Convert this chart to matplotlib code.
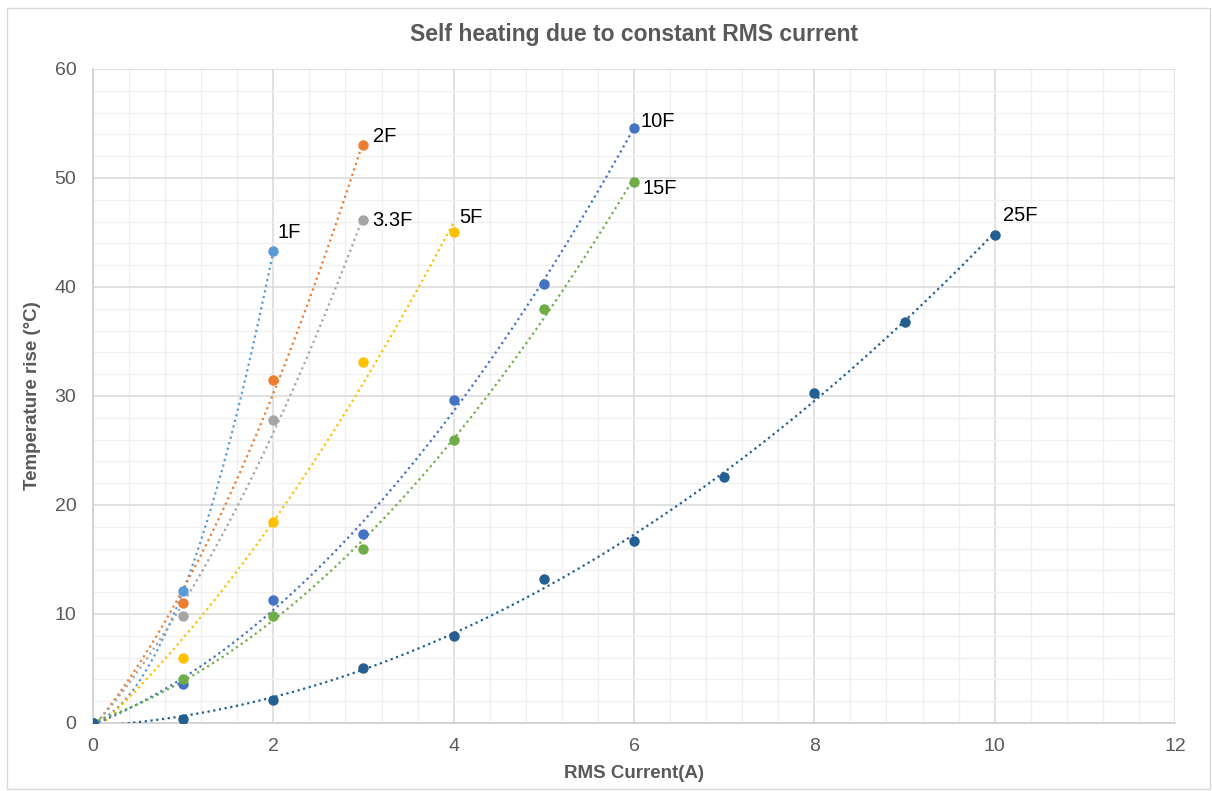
import numpy as np
import matplotlib
matplotlib.use("Agg")
import matplotlib.pyplot as plt

plt.rcParams['font.family'] = ['Liberation Sans', 'DejaVu Sans']

# values
labels = ["1F", "2F", "3.3F", "5F", "10F", "15F", "25F"]
colors = ["#5B9BD5", "#ED7D31", "#A5A5A5", "#FFC000", "#4472C4", "#70AD47", "#255E91"]

current_1f = [0, 1, 2]
temp_1f = [0, 12.1, 43.3]
current_2f = [0, 1, 2, 3]
temp_2f = [0, 11.0, 31.5, 53.0]
current_3f = [0, 1, 2, 3]
temp_3f = [0, 9.8, 27.8, 46.1]
current_5f = [0, 1, 2, 3, 4]
temp_5f = [0, 6.0, 18.4, 33.1, 45.0]
current_10f = [0, 1, 2, 3, 4, 5, 6]
temp_10f = [0, 3.6, 11.3, 17.3, 29.6, 40.3, 54.6]
current_15f = [0, 1, 2, 3, 4, 5, 6]
temp_15f = [0, 4.0, 9.8, 16.0, 26.0, 38.0, 49.6]
current_25f = [0, 1, 2, 3, 4, 5, 6, 7, 8, 9, 10]
temp_25f = [0, 0.4, 2.1, 5.0, 8.0, 13.2, 16.7, 22.6, 30.3, 36.8, 44.8]

series = [(current_1f, temp_1f), (current_2f, temp_2f), (current_3f, temp_3f),
          (current_5f, temp_5f), (current_10f, temp_10f), (current_15f, temp_15f),
          (current_25f, temp_25f)]

# where each series label sits relative to its last point (pixels)
label_offsets = [(4, 19), (10, 9), (9, 0), (6, 15), (7, 6), (9, -6), (8, 19)]

fig = plt.figure(figsize=(12.12, 7.91), dpi=100)
ax = fig.add_axes([0.0767, 0.086, 0.8928, 0.8268])

for (x, y), lab, col, off in zip(series, labels, colors, label_offsets):
    x = np.array(x, dtype=float)
    y = np.array(y, dtype=float)
    # 2nd order trendline like Excel
    p = np.polyfit(x, y, 2)
    xs = np.linspace(0, x[-1], 200)
    ax.plot(xs, np.polyval(p, xs), linestyle=(0, (1, 1.6)), color=col, lw=1.6, zorder=3)
    ax.plot(x, y, 'o', color=col, ms=6.5, zorder=4)
    ax.annotate(lab, (x[-1], y[-1]), xytext=off, textcoords='offset pixels',
                fontsize=14.5, color='black', va='center', ha='left')

ax.set_xlim(0, 12)
ax.set_ylim(0, 60)
ax.set_xticks(np.arange(0, 13, 2))
ax.set_yticks(np.arange(0, 61, 10))
ax.set_xticks(np.arange(0, 12.01, 0.4), minor=True)
ax.set_yticks(np.arange(0, 60.01, 2), minor=True)
ax.grid(which='major', color='#D9D9D9', lw=1.1)
ax.grid(which='minor', color='#F0F0F0', lw=1.0)
ax.set_axisbelow(True)
ax.tick_params(which='both', length=0, labelsize=14, labelcolor='#595959')
ax.tick_params(axis='x', pad=11)
ax.tick_params(axis='y', pad=12)

for s in ['top', 'right']:
    ax.spines[s].set_visible(False)
for s in ['left', 'bottom']:
    ax.spines[s].set_color('#D0D0D0')
    ax.spines[s].set_linewidth(1.2)

ax.set_xlabel("RMS Current(A)", fontsize=13.5, fontweight='bold', color='#595959', labelpad=7)
ax.set_ylabel("Temperature rise (°C)", fontsize=13.5, fontweight='bold', color='#595959', labelpad=10)
ax.set_title("Self heating due to constant RMS current", fontsize=16.5, fontweight='bold',
             color='#595959', pad=20)

# chart border
fig.patches.append(plt.Rectangle((0.006, 0.003), 0.992, 0.987, transform=fig.transFigure,
                                 fill=False, edgecolor='#D9D9D9', lw=1.0))

fig.savefig("out.png", dpi=100)
